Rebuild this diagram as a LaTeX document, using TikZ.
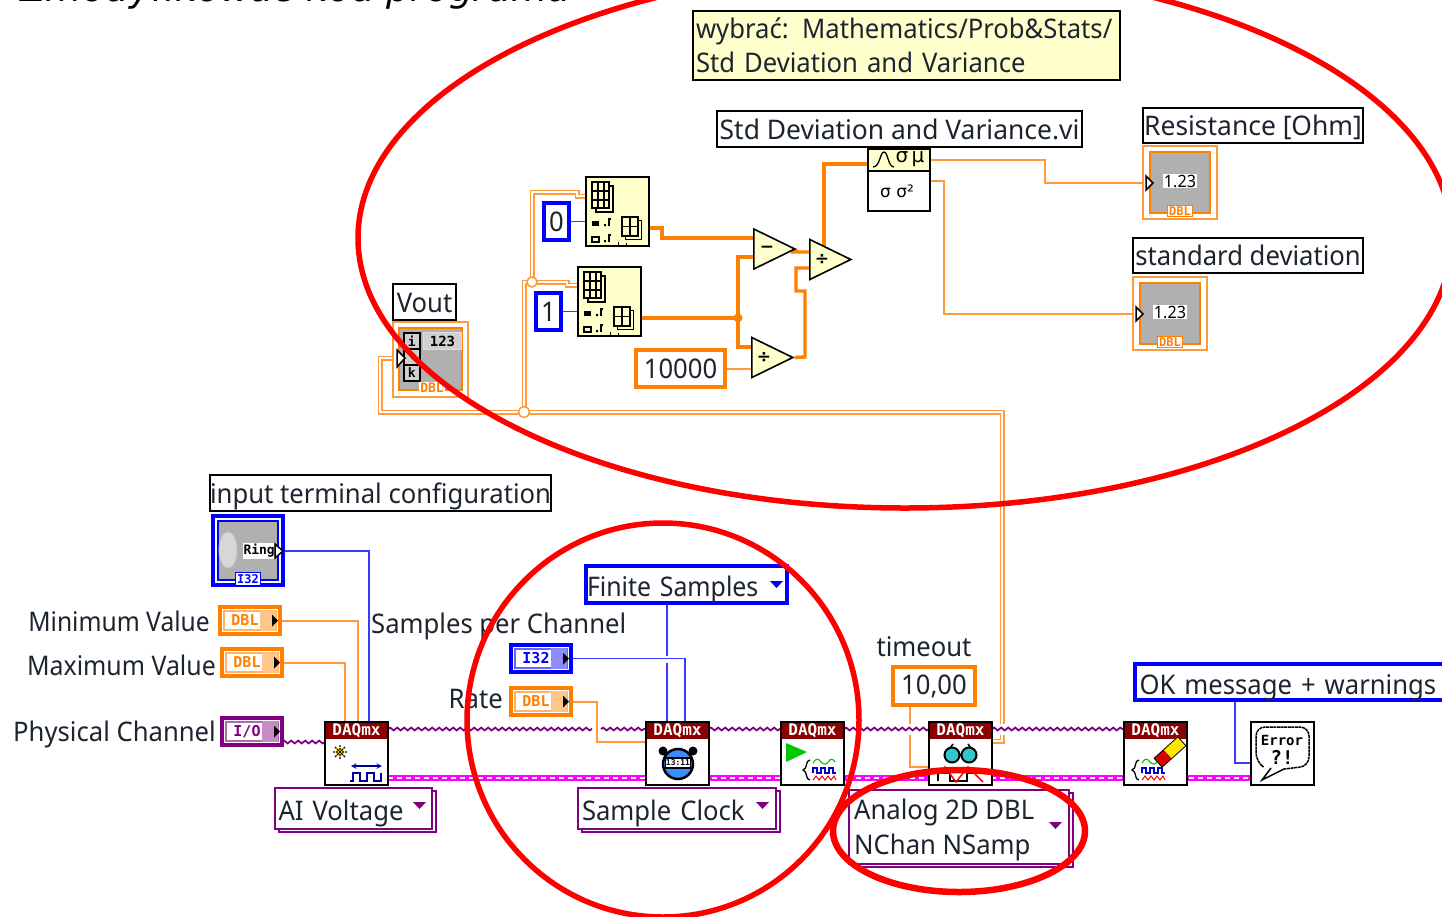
\documentclass[tikz,border=0pt]{standalone}
\usepackage{fontspec}
\setmainfont[FakeStretch=0.95]{Noto Sans}
\newfontfamily\pixf{DejaVu Sans Mono}
\newfontfamily\symf{DejaVu Sans}
\usetikzlibrary{shapes.geometric,decorations.pathmorphing,backgrounds,calc}
\definecolor{lvo}{HTML}{FF8000}
\definecolor{lvol}{HTML}{FF9A3C}
\definecolor{lvb}{HTML}{0000FF}
\definecolor{lvbl}{HTML}{3A3AFF}
\definecolor{lvp}{HTML}{800080}
\definecolor{lvy}{HTML}{FFFFCC}
\definecolor{lvg}{HTML}{B0B0B0}
\definecolor{lvr}{HTML}{8B0000}
\definecolor{lvt}{HTML}{1C2430}
\definecolor{lvm}{HTML}{FF00FF}
\definecolor{lvc}{HTML}{30C8C8}
\definecolor{lvyy}{HTML}{FFE600}
\definecolor{lvgr}{HTML}{00C800}
\definecolor{lvsb}{HTML}{3A8CFF}
\definecolor{lvrd}{HTML}{FF0000}
\newcommand{\lf}{\fontsize{27}{34}\selectfont}
\tikzset{
  lblb/.style={draw=black,line width=2pt,fill=white,text=lvt,font=\lf},
  lbl/.style={lblb,text height=25pt,text depth=5pt},
  note/.style={lblb,fill=lvy},
  txt/.style={text=lvt,font=\lf,inner sep=0pt},
  cblue/.style={draw=lvb,line width=4pt,fill=white,text=lvt,font=\lf},
  corange/.style={draw=lvo,line width=4pt,fill=white,text=lvt,font=\lf},
  ringp/.style={draw=lvp,line width=1.6pt,fill=white,text=lvt,font=\lf},
  low/.style={text height=28pt,text depth=4pt},
  vi/.style={draw=black,line width=2pt,fill=white},
  yel/.style={draw=black,line width=2pt,fill=lvy},
  prim/.style={isosceles triangle,isosceles triangle stretches,draw=black,line width=1.6pt,fill=lvy,
    minimum width=40pt,minimum height=41pt,inner sep=0pt,anchor=lower side,font=\symf\bfseries\fontsize{17}{17}\selectfont},
  fw/.style={draw=lvol,line width=2pt},
  tw/.style={draw=lvo,line width=3.4pt},
  dw/.style={draw=lvol,line width=1.5pt,double=white,double distance=2pt},
  bw/.style={draw=lvbl,line width=1.8pt},
  pw/.style={draw=lvp,line width=1.8pt,decorate,decoration={snake,segment length=7pt,amplitude=1.4pt}},
  ew/.style={draw=lvm,line width=5.5pt,postaction={draw=white,line width=1.5pt,dash pattern=on 5pt off 4pt}},
  oval/.style={draw=lvrd,line width=5.5pt},
  pix/.style={font=\pixf\bfseries\fontsize{#1}{#1}\selectfont,inner sep=0pt}
}
\newcommand{\bx}[7][]{\node[#1,minimum width={((#5)-(#3))*1pt},minimum height={((#6)-(#4))*1pt},inner sep=0pt,outer sep=0pt] (#2) at ({((#3)+(#5))/2},{((#4)+(#6))/2}) {#7};}
% terminal: name, x0,y0,x1,y1, colour, text
\newcommand{\term}[7]{
  \bx[draw=#6,line width=4pt,fill=white]{#1}{#2+2}{#3+2}{#4-2}{#5-2}{}
  \draw[#6!60,line width=1.2pt] ({#2+6},{#3+6}) rectangle ({#4-6},{#5-6});
  \fill[#6!45] ({#4-22},{#3+5}) rectangle ({#4-6},{#5-5});
  \node[pix=15,text=#6] (#1T) at ({(#2+#4)/2-5},{(#3+#5)/2}) {#7};
  \fill[black] ({#4-10},{(#3+#5)/2-6}) -- ({#4-4},{(#3+#5)/2}) -- ({#4-10},{(#3+#5)/2+6}) -- cycle;
}
% numeric indicator
\newcommand{\indic}[3]{
  \bx[draw=lvol,line width=2pt,fill=white]{#1}{#2}{#3}{#2+74}{#3+73}{}
  \bx[draw=lvo,line width=2.5pt,fill=lvg]{#1G}{#2+7}{#3+6}{#2+67}{#3+67}{}
  \node[fill=white,inner sep=1pt,font=\fontsize{17}{17}\selectfont] (#1V) at ({#2+37},{#3+35}) {1.23};
  \node[pix=12,text=lvo,fill=white,draw=lvo,line width=1.2pt,inner sep=1.5pt] (#1D) at ({#2+37},{#3+65}) {DBL};
  \draw[black,line width=1.5pt,fill=white] ({#2+3},{#3+30}) -- ({#2+10},{#3+37}) -- ({#2+3},{#3+44}) -- cycle;
  \coordinate (#1In) at ({#2+3},{#3+37});
}
% array subset icon
\newcommand{\gridic}[3]{
  \begin{scope}[shift={(#1,#2)},scale=#3]
    \draw[black,line width=1.2pt,fill=lvy] (4,4) rectangle (21,30);
    \draw[black,line width=1.6pt,fill=lvy] (0,0) rectangle (17,26);
    \draw[black,line width=1.3pt] (0,9) -- (17,9) (0,18) -- (17,18) (6,0) -- (6,26) (12,0) -- (12,26);
  \end{scope}
}
\newcommand{\subsetic}[3]{
  \bx[yel]{#1}{#2}{#3}{#2+63}{#3+69}{}
  \gridic{#2+6}{#3+5}{1}
  \begin{scope}[shift={(#2+36,#3+40)},scale=.9]
    \draw[black,line width=1.2pt,fill=lvy] (4,4) rectangle (22,25);
    \draw[black,line width=1.6pt,fill=lvy] (0,0) rectangle (18,21);
    \draw[black,line width=1.3pt] (0,10.5) -- (18,10.5) (9,0) -- (9,21);
  \end{scope}
  \fill[black] ({#2+6},{#3+44}) rectangle ({#2+13},{#3+49});
  \draw[black,line width=1.2pt] ({#2+6},{#3+60}) rectangle ({#2+13},{#3+65});
  \draw[black,line width=1.3pt] ({#2+23},{#3+49}) -- ({#2+23},{#3+42}) -- ({#2+25},{#3+42});
  \draw[black,line width=1.3pt] ({#2+23},{#3+65}) -- ({#2+23},{#3+58}) -- ({#2+25},{#3+58});
  \fill[black] ({#2+18},{#3+47}) rectangle ++(2,2) ({#2+18},{#3+63}) rectangle ++(2,2);
  \draw[black,line width=1pt] ({#2+32},{#3+65}) -- ({#2+32},{#3+69}) ({#2+40},{#3+66}) -- ({#2+40},{#3+69});
}
% DAQmx VI
\newcommand{\daq}[2]{
  \bx[vi]{#1}{#2}{722}{#2+63}{785}{}
  \fill[lvr] ({#2+1},723) rectangle ({#2+62},739);
  \node[pix=16,text=white] (#1H) at ({#2+31.5},731) {DAQmx};
}
\newcommand{\wavesic}[2]{
  \begin{scope}[shift={(#1,#2)}]
    \draw[black,line width=1.3pt] (7,-10) .. controls (2,-10) and (5,-1) .. (0,0) .. controls (5,1) and (2,10) .. (7,10);
    \draw[lvgr,line width=1.1pt] (10,-7) .. controls (13,-12) and (15,-12) .. (18,-8) .. controls (21,-5) and (23,-5) .. (26,-9) .. controls (28,-12) and (30,-11) .. (32,-8);
    \draw[lvb!80!black,line width=1.3pt] (10,3) -- (10,-2) -- (14,-2) -- (14,3) -- (18,3) -- (18,-2) -- (22,-2) -- (22,3) -- (26,3) -- (26,-2) -- (30,-2) -- (30,3) -- (33,3);
    \draw[lvrd,line width=1pt] (10,10) -- (13,6) -- (16,10) -- (19,6) -- (22,10) -- (25,6) -- (28,10) -- (31,6) -- (33,10);
  \end{scope}
}
\newcommand{\dntri}[3]{\fill[#3] (#1,#2) -- ({#1+13},#2) -- ({#1+6.5},{#2+7}) -- cycle;}
\begin{document}
\begin{tikzpicture}[x=1pt,y=-1pt]
\useasboundingbox (0,0) rectangle (1442,916);

\node[anchor=base west,inner sep=0pt,text=black,font=\symf\itshape\fontsize{37.5}{37.5}\selectfont] (title) at (20,1.5) {Zmodyfikować kod programu};

% ---------- upper part
\bx[note,align=left,text width=421pt]{hint}{693}{11}{1120}{80}{\mbox{wybrać: Mathematics/Prob\&Stats/}\\\mbox{Std Deviation and Variance}}
\bx[lbl]{sdL}{717}{111}{1082}{147}{\scalebox{1.03}[1]{Std Deviation and Variance.vi}}
\bx[vi]{sd}{868}{149}{930}{211}{}
\bx[yel]{sdT}{868}{149}{930}{171}{}
\draw[black,line width=1.3pt] (873,167) .. controls (880,167) and (880,152) .. (884,152) .. controls (888,152) and (888,167) .. (894,167);
\node[font=\symf\fontsize{20}{20}\selectfont,inner sep=0pt] (sdTt) at (910,159) {σ\,μ};
\node[font=\symf\fontsize{17}{17}\selectfont,inner sep=0pt] (sdBt) at (897,191) {σ σ²};
\coordinate (sdO1) at (930,160);
\coordinate (sdO2) at (930,181);
\coordinate (sdI) at (868,164);

\bx[lbl]{resL}{1143}{108}{1363}{143}{\scalebox{1.03}[1]{Resistance [Ohm]}}
\indic{res}{1143}{146}
\bx[lbl]{stdL}{1133}{238}{1363}{273}{standard deviation}
\indic{std}{1133}{277}

\subsetic{subA}{586}{177}
\subsetic{subB}{578}{267}
\coordinate (subAI) at (586,196);
\coordinate (subAO) at (649,228);
\coordinate (subBI) at (578,285);
\coordinate (subBO) at (641,318);
\bx[cblue]{c0}{544}{203}{569}{240}{0}
\bx[cblue]{c1}{536}{293}{561}{330}{1}
\bx[corange]{c10k}{636}{350}{725}{387}{10000}

\node[prim] (minus) at (753,249) {−};
\node[prim] (divA) at (809,259.5) {÷};
\node[prim] (divB) at (751,357.5) {÷};
\coordinate (jOut) at (738,318);
\coordinate (jArr) at (532,282);
\coordinate (jMain) at (524,412);

% Vout
\bx[lbl]{voutL}{393}{284}{456}{320}{Vout}
\bx[draw=lvol,line width=2pt,fill=white]{vout}{393}{322}{468}{397}{}
\bx[draw=lvo,line width=2.5pt,fill=lvg]{voutG}{399}{328}{462}{390}{}
\foreach \n/\yy/\t in {vi/332/i,vj/348/,vk/364/k}{
  \node[draw=black,line width=1.5pt,fill=lvg!60,minimum width=16pt,minimum height=16pt,inner sep=0pt,font=\pixf\bfseries\fontsize{13}{13}\selectfont,anchor=north west] (\n) at (403,\yy) {\t};
}
\node[fill=lvg!60,draw=lvg!40!white,line width=1pt,minimum width=38pt,minimum height=17pt,inner sep=0pt,font=\pixf\bfseries\fontsize{14}{14}\selectfont,anchor=north west] (v123) at (423,332) {123};
\node[pix=13,text=lvo,fill=white,inner sep=1pt] (voutD) at (432,388) {DBL};
\draw[black,line width=1.5pt,fill=white] (397,350) -- (405,358) -- (397,367) -- cycle;
\coordinate (voutIn) at (397,358);

% ---------- lower part
\bx[lbl]{itcL}{211}{475}{550}{511}{input terminal configuration}
\bx[draw=lvb,line width=4pt,fill=white]{ring}{213}{516}{283}{585}{}
\bx[draw=lvb,line width=1.2pt,fill=lvg]{ringG}{218}{521}{278}{580}{}
\node[ellipse,fill=lvg!50!white,draw=lvg!70,line width=1pt,minimum width=18pt,minimum height=36pt,inner sep=0pt] (ringK) at (228,550) {};
\node[fill=white,inner sep=1pt,font=\pixf\bfseries\fontsize{13}{13}\selectfont,text width=29pt] (ringT) at (258,551) {Ring};
\draw[black,line width=1.5pt,fill=white] (275,544) -- (283,551) -- (275,558) -- cycle;
\node[pix=12,text=lvb,fill=white,draw=lvb,line width=1pt,inner sep=1.5pt] (ringD) at (248,579) {I32};
\coordinate (ringO) at (284,551);

\node[txt,anchor=east] (tMin) at (210,621) {\scalebox{.96}[1]{Minimum Value}};
\node[txt,anchor=east] (tMax) at (216,665) {\scalebox{.97}[1]{Maximum Value}};
\node[txt,anchor=east] (tPhy) at (216,734) {Physical Channel};
\term{tmin}{218}{605}{282}{636}{lvo}{DBL}
\term{tmax}{220}{647}{284}{678}{lvo}{DBL}
\term{tphy}{220}{716}{284}{747}{lvp}{I/O}

\node[txt,anchor=west] (tSpc) at (371,626) {Samples per Channel};
\node[txt,anchor=east] (tRate) at (503,699) {Rate};
\term{tspc}{509}{643}{573}{674}{lvb}{I32}
\term{trate}{509}{686}{573}{717}{lvo}{DBL}
\bx[cblue,low,text width=199pt,align=left]{fin}{586}{566}{787}{603}{\scalebox{.97}[1]{Finite Samples}}
\dntri{770}{581}{lvb}

\node[txt] (tTo) at (924,647) {timeout};
\bx[corange]{cTo}{893}{667}{975}{705}{10,00}
\bx[cblue,low,text width=306pt,align=left]{ok}{1135}{664}{1450}{700}{\mbox{OK message + warnings}}

% rings
\bx[ringp]{aiS}{279}{791}{436}{832}{}
\bx[ringp,text height=27pt,text depth=4pt,text width=150pt,align=left]{ai}{275}{788}{432}{829}{AI Voltage}
\dntri{413}{802}{lvp}
\bx[ringp]{scS}{582}{791}{780}{832}{}
\bx[ringp,text height=27pt,text depth=4pt,text width=190pt,align=left]{sc}{578}{788}{776}{829}{Sample Clock}
\dntri{756}{802}{lvp}
\bx[ringp]{anS}{853}{793}{1073}{867}{}
\bx[ringp]{an}{849}{790}{1069}{864}{}
\node[txt,anchor=north west,align=left,font=\fontsize{27}{35}\selectfont] (anT) at (854,799) {Analog 2D DBL\\NChan NSamp};
\dntri{1049}{822}{lvp}

% DAQmx VIs
\daq{create}{325}
\fill[lvyy] (340,752) circle (4.5);
\draw[black,line width=1.1pt,dash pattern=on 2pt off 1pt] (333,752) -- (347,752) (340,745) -- (340,759) (335,747) -- (345,757) (345,747) -- (335,757);
\draw[lvb!60!black,line width=1.4pt,<->,>=stealth] (351,766) -- (382,766);
\draw[lvb!60!black,line width=1.4pt] (350,781) -- (353,781) -- (353,773) -- (360,773) -- (360,781) -- (367,781) -- (367,773) -- (374,773) -- (374,781) -- (381,781) -- (381,773);

\daq{clock}{646}
\fill[black] (663,751) circle (4.5) (693,751) circle (4.5);
\draw[black,line width=2.5pt,fill=lvsb] (678,764) circle (15);
\node[draw=black,line width=1.2pt,fill=white,minimum width=25pt,minimum height=10pt,inner sep=0pt,font=\pixf\bfseries\fontsize{8}{8}\selectfont] (clockD) at (678,763) {13:11};

\daq{start}{781}
\fill[lvgr] (786,743) -- (807,752) -- (786,762) -- cycle;
\wavesic{803}{770}

\daq{read}{929}
\draw[black,line width=1.5pt] (945,755) -- (953,744) (976,755) -- (968,744);
\draw[black,line width=2pt,fill=lvc] (952,755) circle (7.5) (969,755) circle (7.5);
\draw[black,line width=1.5pt] (938,781) -- (938,773) -- (950,773) -- (950,781) -- (967,781) -- (967,773) -- (981,773);
\draw[lvrd,line width=1.5pt] (938,773) -- (945,767) -- (956,782) -- (968,767) -- (983,782);

\daq{clear}{1124}
\wavesic{1132}{770}
\begin{scope}[shift={(1170,752)},rotate=42]
  \fill[lvrd!85!black] (-16,-6) rectangle (-3,6);
  \fill[lvyy] (-3,-6) rectangle (16,6);
  \draw[black,line width=.8pt] (-16,-6) rectangle (16,6);
\end{scope}

\bx[vi]{err}{1251}{722}{1314}{785}{}
\draw[black,line width=1.5pt,dash pattern=on 3pt off .6pt,rounded corners=9pt] (1262,766) -- (1256,762) -- (1256,727) -- (1309,727) -- (1309,766) -- (1284,769);
\draw[black,line width=1.5pt] (1284,769) -- (1262,780) -- (1271,768);
\node[pix=14] (errT) at (1282,740) {Error};
\node[pix=19] (errQ) at (1282,757) {?!};
\coordinate (errB) at (1251,763);

% pin coordinates
\coordinate (pwy) at (0,729);
\coordinate (ewy) at (0,778);
\coordinate (cMin) at (358,722);
\coordinate (cMax) at (345,722);
\coordinate (cRing) at (369,722);
\coordinate (cPhy) at (325,742);
\coordinate (clkM) at (667,722);
\coordinate (clkS) at (685,722);
\coordinate (clkR) at (646,742);
\coordinate (rdT) at (929,767);
\coordinate (rdO) at (993,741);

\begin{pgfonlayer}{background}
  % thin orange
  \draw[fw] (sdO1) -| (1045,183) -- (resIn);
  \draw[fw] (sdO2) -| (944,314) -- (stdIn);
  \draw[fw] (c10k.east) -- (c10k.east -| divB.lower side);
  \draw[fw] (tmin.east) -| (cMin);
  \draw[fw] (tmax.east) -| (cMax);
  \draw[fw] (trate.east) -| (597,742) -- (clkR);
  \draw[fw] (cTo.south -| 910,0) -- (910,724);
  \draw[fw] (910,735) |- (rdT);
  % blue
  \draw[bw] (c0.east) -- (c0.east -| subA.west);
  \draw[bw] (c1.east) -- (c1.east -| subB.west);
  \draw[bw] (ringO) -| (cRing);
  \draw[bw] (fin.south -| clkM) -- (667,656);
  \draw[bw] (667,663) -- (clkM);
  \draw[bw] (tspc.east) -| (clkS);
  \draw[bw] (ok.south -| 1235,0) |- (errB);
  % thick orange
  \draw[tw] (subAO) -- (662,228) -- (662,238) -- (753,238);
  \draw[tw] (subBO) -- (jOut);
  \draw[tw] (753,257) -- (738,257) -- (738,347) -- (751,347);
  \draw[tw] (minus.apex) -- (794,252) -- (809,252);
  \draw[tw] (824,246) |- (sdI);
  \draw[tw] (divB.apex) -- (805,357) -- (805,291) -- (796,291) -- (796,268) -- (809,268);
  \fill[lvo] (jOut) circle (4.5);
  % double arrays
  \draw[dw] (rdO) -- (1002,741) -- (1002,735);
  \draw[dw] (1002,724) -- (1002,412) -- (380,412) -- (380,358) -- (voutIn);
  \draw[dw] (jMain) -- (524,282) -- (jArr);
  \draw[dw] (jArr) -- (532,192) -- (577,192) -- (577,196) -- (subAI);
  \draw[dw] (jArr) -- (567,282) -- (567,285) -- (subBI);
  \draw[lvol,line width=1.5pt,fill=white] (jArr) circle (5) (jMain) circle (5.5);
  % error wire
  \draw[ew] (create.east |- ewy) -- (err.west |- ewy);
  % task wire
  \draw[pw] (tphy.east |- cPhy) -- (cPhy);
  \draw[pw] (create.east |- pwy) -- (592,729);
  \draw[pw] (601,729) -- (clock.west |- pwy);
  \draw[pw] (clock.east |- pwy) -- (start.west |- pwy);
  \draw[pw] (start.east |- pwy) -- (read.west |- pwy);
  \draw[pw] (read.east |- pwy) -- (clear.west |- pwy);
\end{pgfonlayer}

% ---------- red marks
\draw[oval] (905,238) ellipse [x radius=547,y radius=270];
\draw[oval] (663,720) ellipse [x radius=196,y radius=197];
\draw[oval,line width=6.5pt] (959,831) ellipse [x radius=126,y radius=61];
\end{tikzpicture}
\end{document}
